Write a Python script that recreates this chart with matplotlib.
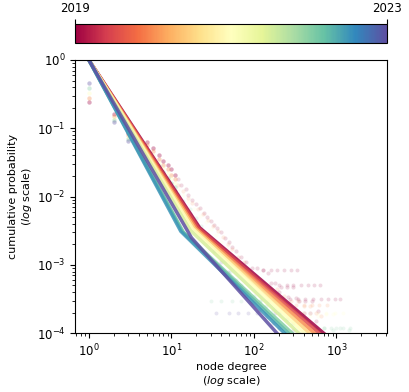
import numpy as np
import matplotlib
matplotlib.use("Agg")
import matplotlib.pyplot as plt
from matplotlib.colors import Normalize

# fitted ccdf lines: start at (1, 1), bend, then reach 1e-4
line_years = [2019.0, 2019.5, 2020.0, 2020.5, 2021.0, 2021.5, 2022.0, 2022.25, 2022.5, 2023.0]
bend_deg = [22, 21, 20, 19, 18, 17, 14, 13.5, 13, 17.5]
bend_prob = [0.0035, 0.0035, 0.0034, 0.0034, 0.0034, 0.0032, 0.0030, 0.0031, 0.0031, 0.0025]
end_deg = [700, 620, 540, 470, 410, 350, 290, 260, 235, 190]
end_prob = 1e-4

# empirical points per year
point_years = [2019, 2020, 2021, 2022, 2023]
head_deg = [1, 2, 3, 4, 5, 6, 7, 8, 9, 10, 11]
head_prob = {
    2019: [0.24, 0.16, 0.085, 0.07, 0.062, 0.052, 0.040, 0.033, 0.029, 0.025, 0.021],
    2020: [0.28, 0.15, 0.08, 0.066, 0.056, 0.046, 0.035, 0.029, 0.025, 0.021, 0.018],
    2021: [0.33, 0.14, 0.075, 0.061, 0.050, 0.041, 0.031, 0.026, 0.022, 0.019, 0.016],
    2022: [0.39, 0.13, 0.07, 0.056, 0.045, 0.036, 0.028, 0.023, 0.019, 0.016, 0.014],
    2023: [0.46, 0.125, 0.065, 0.05, 0.040, 0.032, 0.025, 0.020, 0.017, 0.014, 0.012],
}
tail_deg = {
    2019: [12, 13, 15, 16, 18, 20, 22, 25, 27, 30, 33, 36, 40, 45, 50, 55, 60, 70, 80,
           95, 110, 130, 150, 180, 210, 250, 300, 350, 420, 500, 600, 160, 200, 260,
           320, 400, 480, 560],
    2020: [12, 14, 16, 18, 21, 24, 28, 32, 37, 42, 48, 55, 65, 75, 90, 110, 130, 160,
           190, 230, 280, 340, 400, 480, 560, 650],
    2021: [12, 14, 16, 19, 22, 26, 30, 35, 40, 47, 55, 65, 75, 90, 105, 125, 150, 180,
           220, 260, 320, 400, 480, 600, 750, 900],
    2022: [12, 14, 17, 20, 23, 27, 32, 38, 45, 52, 60, 70, 85, 100, 120, 140, 170, 200,
           250, 300, 400, 550, 700, 900, 1100, 1400],
    2023: [12, 14, 17, 20, 24, 28, 33, 40, 48, 57, 68, 80, 95, 115, 140, 170, 200, 250,
           300, 380],
}
tail_prob = {
    2019: [0.018, 0.015, 0.013, 0.0105, 0.009, 0.0078, 0.0068, 0.0058, 0.0050, 0.0044,
           0.0038, 0.0035, 0.003, 0.0025, 0.0022, 0.0018, 0.0016, 0.0013, 0.0011, 0.0009,
           0.0009, 0.00085, 0.00075, 0.00055, 0.00047, 0.00047, 0.00047, 0.0003, 0.0003,
           0.0003, 0.00021, 0.00055, 0.0004, 0.00034, 0.00033, 0.0002, 0.0002, 0.00015],
    2020: [0.015, 0.012, 0.0095, 0.008, 0.0065, 0.0055, 0.0045, 0.0037, 0.0031, 0.0026,
           0.002, 0.0017, 0.0013, 0.0011, 0.0008, 0.00065, 0.00055, 0.00045, 0.00045,
           0.00035, 0.0003, 0.0003, 0.00025, 0.00025, 0.0002, 0.00018],
    2021: [0.013, 0.0105, 0.0085, 0.0065, 0.0052, 0.0042, 0.0034, 0.0027, 0.0022, 0.0018,
           0.0014, 0.0011, 0.0009, 0.0007, 0.00055, 0.00045, 0.00035, 0.0003, 0.00025,
           0.00022, 0.0002, 0.0002, 0.00018, 0.00018, 0.00019, 0.00019],
    2022: [0.011, 0.0085, 0.0065, 0.0048, 0.0037, 0.0028, 0.002, 0.0015, 0.0011, 0.0008,
           0.0006, 0.0005, 0.0004, 0.00035, 0.0003, 0.00025, 0.00022, 0.0002, 0.00016,
           0.00014, 0.00013, 0.00012, 0.00012, 0.00011, 0.00012, 0.00011],
    2023: [0.0095, 0.0075, 0.0055, 0.004, 0.003, 0.0022, 0.0016, 0.0011, 0.0008, 0.0006,
           0.00045, 0.00035, 0.00028, 0.00022, 0.00017, 0.00014, 0.00012, 0.00011, 0.00011,
           0.0001],
}

# horizontal runs of points at low probability (few nodes share a level)
streak_year = [2019, 2019, 2019, 2020, 2021, 2022, 2022, 2023]
streak_prob = [8.5e-4, 5e-4, 3.2e-4, 2.6e-4, 2e-4, 1.2e-4, 3e-4, 2e-4]
streak_deg = [
    [130, 160, 190, 230, 280, 330],
    [200, 250, 300, 370, 450, 540, 630],
    [270, 340, 420, 520, 650, 800, 950, 1100],
    [250, 320, 400, 500, 620, 760],
    [300, 380, 480, 600, 750, 950, 1200],
    [580, 700, 850, 1000, 1200, 1450],
    [30, 40, 55, 70, 90, 120, 150],
    [35, 50, 65, 85, 110, 140, 180],
]

#%%
plt.rcParams["font.size"] = 8
plt.rcParams["xtick.labelsize"] = 8.5
plt.rcParams["ytick.labelsize"] = 8.5
cmap = plt.get_cmap("Spectral")
norm = Normalize(vmin=2019, vmax=2023)

fig = plt.figure(figsize=(4.1, 3.92), dpi=100)
ax = fig.add_axes([0.183, 0.150, 0.761, 0.697])
cax = fig.add_axes([0.183, 0.890, 0.761, 0.048])

for yr in point_years:
    c = cmap(norm(yr))
    ax.scatter(head_deg, head_prob[yr], s=10, color=c, alpha=0.35, lw=0)
    ax.scatter(tail_deg[yr], tail_prob[yr], s=9, color=c, alpha=0.15, lw=0)

for yr, p, degs in zip(streak_year, streak_prob, streak_deg):
    ax.scatter(degs, [p] * len(degs), s=8, color=cmap(norm(yr)), alpha=0.15, lw=0)

for yr, bd, bp, ed in zip(line_years, bend_deg, bend_prob, end_deg):
    ax.plot([1, bd, ed], [1, bp, end_prob], color=cmap(norm(yr)), lw=2.5, alpha=0.85)

ax.set_xscale("log")
ax.set_yscale("log")
ax.set_xlim(0.68, 4100)
ax.set_ylim(1e-4, 1)
ax.set_xlabel("node degree\n($\\it{log}$ scale)", labelpad=2)
ax.set_ylabel("cumulative probability\n($\\it{log}$ scale)", labelpad=2)

sm = plt.cm.ScalarMappable(cmap=cmap, norm=norm)
cb = fig.colorbar(sm, cax=cax, orientation="horizontal", ticks=[2019, 2023])
cb.ax.xaxis.set_ticks_position("top")
cb.ax.set_xticklabels(["2019", "2023"])

fig.savefig("out.png", dpi=100)
